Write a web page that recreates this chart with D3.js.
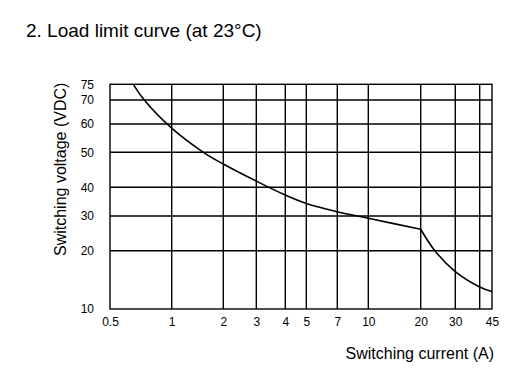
<!DOCTYPE html>
<html>
<head>
<meta charset="utf-8">
<script src="https://cdn.jsdelivr.net/npm/d3@7"></script>
<style>
  html, body { margin: 0; padding: 0; background: #fff; }
  svg { display: block; font-family: "Liberation Sans", Arial, sans-serif; }
</style>
</head>
<body>
<div id="chart"></div>
<script>
// ---- data ----
const xTickValues = [0.5, 1, 2, 3, 4, 5, 7, 10, 20, 30, 45];
const xGridValues = [1, 2, 3, 4, 5, 7, 10, 20, 30, 40];
const yTickValues = [10, 20, 30, 40, 50, 60, 70, 75];
const yGridValues = [20, 30, 40, 50, 60, 70];
// upper branch (up to 20 A) and steep branch (20 A onwards)
const curveCurrentA = [0.65, 0.735, 1, 1.53, 2, 3, 4, 5, 7, 10, 20];
const curveVoltageA = [75, 70, 58.4, 50, 46.4, 41.6, 37.0, 34.0, 31.3, 29.2, 25.7];
const curveCurrentB = [20, 23.6, 30, 40, 45];
const curveVoltageB = [25.7, 20, 15.6, 13.0, 12.3];

// axis calibration of the (hand-drawn) log-log grid, as fractions of the plot
const xCalibDomain = [0.5, 1, 2, 3, 4, 5, 7, 10, 20, 30, 40, 45];
const xCalibFrac   = [0, 0.1615, 0.2966, 0.383, 0.4589, 0.5139, 0.595, 0.6762, 0.8134, 0.9039, 0.9678, 1];
const yCalibDomain = [10, 20, 30, 40, 50, 60, 70, 75];
const yCalibFrac   = [0, 0.2595, 0.4139, 0.5416, 0.6974, 0.8233, 0.9301, 1];

const W = 522, H = 383;
const margin = { left: 110, top: 84.3, right: 30, bottom: 74 };
const pw = W - margin.left - margin.right;
const ph = H - margin.top - margin.bottom;

const x = d3.scaleLog().domain(xCalibDomain).range(xCalibFrac.map(f => f * pw));
const y = d3.scaleLog().domain(yCalibDomain).range(yCalibFrac.map(f => ph - f * ph));

const svg = d3.select("#chart").append("svg").attr("width", W).attr("height", H);
svg.append("rect").attr("width", W).attr("height", H).attr("fill", "#fff");

svg.append("text")
  .attr("x", 26).attr("y", 37)
  .attr("font-size", 19).attr("fill", "#000")
  .text("2. Load limit curve (at 23°C)");

const g = svg.append("g").attr("transform", `translate(${margin.left},${margin.top})`);

// grid
g.selectAll("line.vg").data(xGridValues).join("line")
  .attr("class", "vg")
  .attr("x1", d => x(d)).attr("x2", d => x(d))
  .attr("y1", 0).attr("y2", ph)
  .attr("stroke", "#000").attr("stroke-width", 1.4);
g.selectAll("line.hg").data(yGridValues).join("line")
  .attr("class", "hg")
  .attr("x1", 0).attr("x2", pw)
  .attr("y1", d => y(d)).attr("y2", d => y(d))
  .attr("stroke", "#000").attr("stroke-width", 1.4);
g.append("rect").attr("x", 0).attr("y", 0).attr("width", pw).attr("height", ph)
  .attr("fill", "none").attr("stroke", "#000").attr("stroke-width", 1.4);

// axes (labels only)
const xAxis = d3.axisBottom(x).tickValues(xTickValues).tickSize(0).tickPadding(8)
  .tickFormat(d => String(d));
const xa = g.append("g").attr("transform", `translate(0,${ph})`).call(xAxis);
xa.select(".domain").remove();
xa.selectAll("text").attr("font-size", 12).attr("font-family", "Liberation Sans, Arial, sans-serif").attr("fill", "#000");

const yAxis = d3.axisLeft(y).tickValues(yTickValues).tickSize(0).tickPadding(16)
  .tickFormat(d => String(d));
const ya = g.append("g").call(yAxis);
ya.select(".domain").remove();
ya.selectAll("text").attr("font-size", 12).attr("font-family", "Liberation Sans, Arial, sans-serif").attr("fill", "#000");

// curve
const line = d3.line().x(d => x(d[0])).y(d => y(d[1])).curve(d3.curveCatmullRom.alpha(0.5));
const ptsA = curveCurrentA.map((c, i) => [c, curveVoltageA[i]]);
const ptsB = curveCurrentB.map((c, i) => [c, curveVoltageB[i]]);
[ptsA, ptsB].forEach(p => {
  g.append("path").attr("d", line(p))
    .attr("fill", "none").attr("stroke", "#000").attr("stroke-width", 1.6)
    .attr("stroke-linejoin", "round");
});

// axis titles
svg.append("text")
  .attr("transform", `translate(66,${margin.top + 85}) rotate(-90)`)
  .attr("text-anchor", "middle")
  .attr("font-size", 16).attr("fill", "#000")
  .text("Switching voltage (VDC)");
svg.append("text")
  .attr("x", 494).attr("y", 359)
  .attr("text-anchor", "end")
  .attr("font-size", 16).attr("fill", "#000")
  .text("Switching current (A)");
</script>
</body>
</html>
